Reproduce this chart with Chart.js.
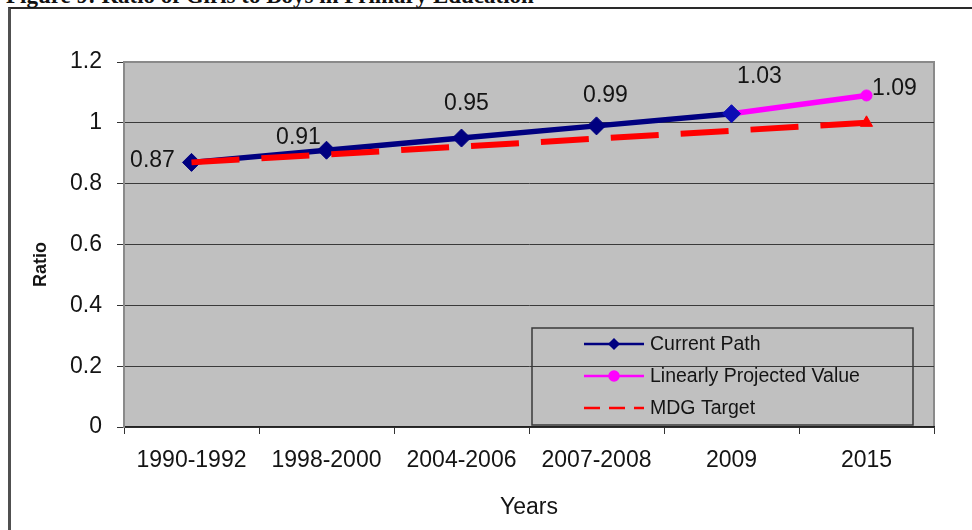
<!DOCTYPE html>
<html>
<head>
<meta charset="utf-8">
<script src="https://cdn.jsdelivr.net/npm/chart.js@4.4.1/dist/chart.umd.min.js"></script>
<style>
  html, body { margin: 0; padding: 0; background: #fff; }
  #wrap { position: relative; width: 972px; height: 530px; overflow: hidden; }
  #frame { position: absolute; left: 8px; top: 7px; width: 1000px; height: 600px;
           border-left: 3px solid #505050; border-top: 2px solid #2a2a2a; box-sizing: border-box; }
  #title { position: absolute; left: 6px; top: -17px; white-space: nowrap; color: #111;
           font: bold 23px "Liberation Serif", "Times New Roman", serif; }
  canvas { position: absolute; left: 0; top: 0; }
</style>
</head>
<body>
<div id="wrap">
  <div id="frame"></div>
  <div id="title">Figure 9: Ratio of Girls to Boys in Primary Education</div>
  <canvas id="c" width="972" height="530"></canvas>
</div>
<script>
// Ratio of girls to boys in primary education
const categories = ['1990-1992', '1998-2000', '2004-2006', '2007-2008', '2009', '2015'];
const currentPath = [0.87, 0.91, 0.95, 0.99, 1.03, null];
const projectedValue = [null, null, null, null, 1.03, 1.09];
const mdgTarget = [0.87, 0.896, 0.922, 0.948, 0.974, 1.0];
const yTicks = { min: 0, max: 1.2, step: 0.2 };
const yTitle = 'Ratio';
const xTitle = 'Years';

const FONT = '"Liberation Sans", Arial, sans-serif';
const TEXT = '#141414';

// Grey plot background with a thin grey border
const plotBg = {
  id: 'plotBg',
  beforeDraw(chart) {
    const { ctx, chartArea: a } = chart;
    ctx.save();
    ctx.fillStyle = '#c0c0c0';
    ctx.fillRect(a.left, a.top, a.right - a.left, a.bottom - a.top);
    ctx.strokeStyle = '#8a8a8a';
    ctx.lineWidth = 2;
    ctx.strokeRect(a.left, a.top, a.right - a.left, a.bottom - a.top);
    ctx.restore();
  }
};

// Bold, rotated y-axis title sitting a little below the axis middle
const yAxisTitle = {
  id: 'yAxisTitle',
  afterDraw(chart, args, opts) {
    const { ctx, chartArea: a } = chart;
    ctx.save();
    ctx.translate(opts.x, (a.top + a.bottom) / 2 + opts.shift);
    ctx.rotate(-Math.PI / 2);
    ctx.font = 'bold 18px ' + FONT;
    ctx.fillStyle = TEXT;
    ctx.textAlign = 'center';
    ctx.textBaseline = 'middle';
    ctx.fillText(opts.text, 0, 0);
    ctx.restore();
  }
};

// Value labels next to the points (offsets in px from each point)
const valueLabels = {
  id: 'valueLabels',
  afterDatasetsDraw(chart, args, opts) {
    const { ctx } = chart;
    ctx.save();
    ctx.font = '23px ' + FONT;
    ctx.fillStyle = TEXT;
    ctx.textAlign = 'center';
    ctx.textBaseline = 'middle';
    opts.items.forEach(it => {
      const ds = chart.data.datasets[it.dataset];
      const pt = chart.getDatasetMeta(it.dataset).data[it.index];
      const v = ds.data[it.index];
      ctx.fillText(v.toFixed(2), pt.x + it.dx, pt.y + it.dy);
    });
    ctx.restore();
  }
};

// Boxed legend inside the lower right of the plot
const boxLegend = {
  id: 'boxLegend',
  afterDraw(chart, args, opts) {
    const { ctx, chartArea: a } = chart;
    const x0 = a.left + opts.left, y0 = a.top + opts.top;
    ctx.save();
    ctx.strokeStyle = '#3a3a3a';
    ctx.lineWidth = 1.5;
    ctx.strokeRect(x0, y0, opts.width, opts.height);
    ctx.font = '19.5px ' + FONT;
    ctx.textBaseline = 'middle';
    opts.order.forEach((di, row) => {
      const ds = chart.data.datasets[di];
      const y = y0 + 16 + row * 32;
      const lx = x0 + 52, lw = 60;
      ctx.save();
      ctx.strokeStyle = ds.borderColor;
      ctx.lineWidth = ds.legendLineWidth;
      ctx.setLineDash(ds.legendDash || []);
      ctx.beginPath();
      ctx.moveTo(lx, y);
      ctx.lineTo(lx + lw, y);
      ctx.stroke();
      ctx.restore();
      if (ds.legendMarker) {
        ctx.fillStyle = ds.borderColor;
        ctx.strokeStyle = ds.borderColor;
        Chart.helpers.drawPoint(ctx, {
          pointStyle: ds.legendMarker, radius: ds.legendMarkerRadius, borderWidth: 1, rotation: 0
        }, lx + lw / 2, y);
      }
      ctx.fillStyle = TEXT;
      ctx.fillText(ds.label, lx + lw + 6, y + 1);
    });
    ctx.restore();
  }
};

new Chart(document.getElementById('c'), {
  type: 'line',
  data: {
    labels: categories,
    datasets: [
      {
        label: 'Current Path',
        data: currentPath,
        order: 1,
        borderColor: '#000080',
        backgroundColor: '#000080',
        borderWidth: 5.5,
        pointStyle: 'rectRot',
        pointRadius: 9,
        pointBackgroundColor: ['#000080', '#000080', '#000080', '#000080', '#0c0cb4', '#000080'],
        pointBorderColor: ['#000080', '#000080', '#000080', '#000080', '#0c0cb4', '#000080'],
        pointBorderWidth: 1,
        tension: 0,
        legendLineWidth: 2.5,
        legendMarker: 'rectRot',
        legendMarkerRadius: 5
      },
      {
        label: 'Linearly Projected Value',
        data: projectedValue,
        order: 2,
        borderColor: '#ff00ff',
        backgroundColor: '#ff00ff',
        borderWidth: 5.5,
        pointStyle: 'circle',
        pointRadius: [0, 0, 0, 0, 0, 5.5],
        pointBorderWidth: 1,
        tension: 0,
        legendLineWidth: 2.5,
        legendMarker: 'circle',
        legendMarkerRadius: 5
      },
      {
        label: 'MDG Target',
        data: mdgTarget,
        order: 0,
        borderColor: '#ff0000',
        backgroundColor: '#ff0000',
        borderWidth: 6,
        borderDash: [48, 22],
        pointStyle: 'triangle',
        pointRadius: [0, 0, 0, 0, 0, 7],
        pointBorderWidth: 1,
        tension: 0,
        legendLineWidth: 2.5,
        legendDash: [16, 9]
      }
    ]
  },
  options: {
    responsive: false,
    animation: false,
    devicePixelRatio: 1,
    layout: { padding: { top: 62, right: 38, left: 0, bottom: 0 } },
    plugins: {
      legend: { display: false },
      tooltip: { enabled: false },
      yAxisTitle: { text: yTitle, x: 41, shift: 20 },
      valueLabels: {
        items: [
          { dataset: 0, index: 0, dx: -39, dy: -2 },
          { dataset: 0, index: 1, dx: -28, dy: -13 },
          { dataset: 0, index: 2, dx: 5, dy: -34 },
          { dataset: 0, index: 3, dx: 9, dy: -30 },
          { dataset: 0, index: 4, dx: 28, dy: -37 },
          { dataset: 1, index: 5, dx: 28, dy: -7 }
        ]
      },
      boxLegend: { left: 408, top: 266, width: 381, height: 97, order: [0, 1, 2] }
    },
    scales: {
      x: {
        type: 'category',
        offset: true,
        grid: { offset: true, drawOnChartArea: false, drawTicks: true, tickLength: 7, tickColor: '#333' },
        border: { display: true, color: '#222', width: 1.5 },
        ticks: { font: { family: FONT, size: 23 }, color: TEXT, padding: 13, maxRotation: 0, autoSkip: false },
        title: { display: true, text: xTitle, font: { family: FONT, size: 23 }, color: TEXT,
                 padding: { top: 0, bottom: 9 } },
        afterFit(s) { s.height = 103; }
      },
      y: {
        min: yTicks.min,
        max: yTicks.max,
        ticks: {
          stepSize: yTicks.step,
          font: { family: FONT, size: 23 },
          color: TEXT,
          padding: 15,
          callback: v => String(Math.round(v * 10) / 10)
        },
        grid: {
          color: c => (c.tick && c.tick.value > 1.19) ? '#8a8a8a' : '#3a3a3a',
          lineWidth: 1,
          tickColor: '#333',
          tickLength: 7
        },
        border: { display: true, color: '#8a8a8a', width: 2 },
        title: { display: false },
        afterFit(s) { s.width = 124; }
      }
    }
  },
  plugins: [plotBg, valueLabels, boxLegend, yAxisTitle]
});
</script>
</body>
</html>
